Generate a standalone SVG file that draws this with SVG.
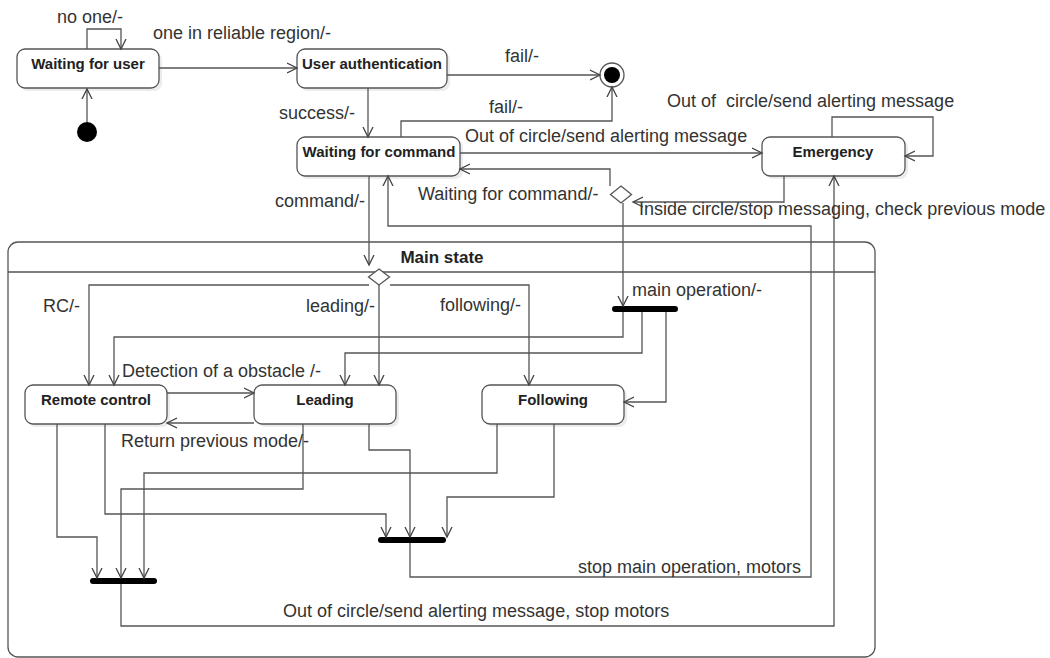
<svg xmlns="http://www.w3.org/2000/svg" width="1050" height="658" viewBox="0 0 1050 658">
<defs>
<marker id="arr" markerUnits="userSpaceOnUse" markerWidth="12" markerHeight="12" refX="10" refY="5" orient="auto" viewBox="0 0 12 10">
<path d="M0,0 L10,5 L0,10" fill="none" stroke="#444" stroke-width="1.3"/>
</marker>
</defs>
<style>
.node{fill:#fff;stroke:#555;stroke-width:1.3}
.shadow{fill:#ececec;stroke:none}
.nl{font-family:"Liberation Sans",Arial,sans-serif;font-weight:bold;font-size:15px;fill:#222;text-anchor:middle}
.lbl{font-family:"Liberation Sans",Arial,sans-serif;font-size:18px;fill:#333}
.c{fill:none;stroke:#555;stroke-width:1.3;marker-end:url(#arr)}
.cn{fill:none;stroke:#555;stroke-width:1.3}
.bar{fill:#000}
</style>
<rect x="0" y="0" width="1050" height="658" fill="#fff"/>

<g id="main-state">
<rect x="8" y="242" width="867" height="415" rx="10" fill="#fff" stroke="#555" stroke-width="1.3"/>
<line x1="8" y1="272" x2="875" y2="272" stroke="#555" stroke-width="1.3"/>
<text x="442" y="263" class="nl" style="font-size:17px">Main state</text>
</g>

<g id="waiting-for-user">
<rect class="shadow" x="20" y="52" width="142" height="39" rx="8"/>
<rect class="node" x="17" y="49" width="142" height="39" rx="8"/>
<text class="nl" x="88" y="69">Waiting for user</text>
</g>
<g id="initial">
<circle cx="87" cy="132" r="10" fill="#000"/>
</g>
<g id="user-authentication">
<rect class="shadow" x="300" y="52" width="150" height="39" rx="8"/>
<rect class="node" x="297" y="49" width="150" height="39" rx="8"/>
<text class="nl" x="372" y="69">User authentication</text>
</g>
<g id="final">
<circle cx="612" cy="75" r="12" fill="#fff" stroke="#555" stroke-width="1.3"/>
<circle cx="612" cy="75" r="8" fill="#000"/>
</g>
<g id="waiting-for-command">
<rect class="shadow" x="300" y="140" width="163" height="39" rx="8"/>
<rect class="node" x="297" y="137" width="163" height="39" rx="8"/>
<text class="nl" x="379" y="157">Waiting for command</text>
</g>
<g id="emergency">
<rect class="shadow" x="765" y="140" width="143" height="39" rx="8"/>
<rect class="node" x="762" y="137" width="143" height="39" rx="8"/>
<text class="nl" x="833" y="157">Emergency</text>
</g>
<g id="decision-top">
<path d="M621,186 L631.5,194.5 L621,203 L610.5,194.5 Z" fill="#fff" stroke="#555" stroke-width="1.3"/>
</g>
<g id="decision-main">
<path d="M379,269 L389.5,277 L379,285 L368.5,277 Z" fill="#fff" stroke="#555" stroke-width="1.3"/>
</g>
<g id="fork-main-operation">
<rect class="bar" x="612" y="306" width="66" height="6" rx="3"/>
</g>
<g id="remote-control">
<rect class="shadow" x="28" y="388" width="142" height="39" rx="8"/>
<rect class="node" x="25" y="385" width="142" height="39" rx="8"/>
<text class="nl" x="96" y="405">Remote control</text>
</g>
<g id="leading">
<rect class="shadow" x="257" y="388" width="142" height="39" rx="8"/>
<rect class="node" x="254" y="385" width="142" height="39" rx="8"/>
<text class="nl" x="325" y="405">Leading</text>
</g>
<g id="following">
<rect class="shadow" x="485" y="388" width="142" height="39" rx="8"/>
<rect class="node" x="482" y="385" width="142" height="39" rx="8"/>
<text class="nl" x="553" y="405">Following</text>
</g>
<g id="join-2">
<rect class="bar" x="378" y="537" width="68" height="6" rx="3"/>
</g>
<g id="join-1">
<rect class="bar" x="90" y="578" width="67" height="6" rx="3"/>
</g>

<g id="connectors">
<path class="c" d="M87,122 L87,89"/>
<path class="c" d="M87,49 L87,29 L121,29 L121,49"/>
<path class="c" d="M159,68 L297,68"/>
<path class="c" d="M447,75 L600,75"/>
<path class="c" d="M368,88 L368,137"/>
<path class="c" d="M401,137 L401,121 L612,121 L612,87"/>
<path class="c" d="M460,153 L762,153"/>
<path class="c" d="M832,137 L832,117 L933,117 L933,156 L905,156"/>
<path class="c" d="M784,176 L784,202 L633,202"/>
<path class="c" d="M610,186 L610,169 L460,169"/>
<path class="c" d="M623,203 L623,306"/>
<path class="c" d="M369,176 L369,265"/>
<path class="c" d="M623,312 L623,337 L114,337 L114,385"/>
<path class="c" d="M642,312 L642,353 L345,353 L345,385"/>
<path class="c" d="M666,312 L666,402 L624,402"/>
<path class="c" d="M369,285 L89,285 L89,385"/>
<path class="c" d="M379,285 L379,385"/>
<path class="c" d="M390,285 L529,285 L529,385"/>
<path class="c" d="M167,393 L254,393"/>
<path class="c" d="M254,423 L167,423"/>
<path class="c" d="M57,424 L57,537 L97,537 L97,578"/>
<path class="c" d="M303,424 L303,489 L121,489 L121,578"/>
<path class="c" d="M497,424 L497,473 L144,473 L144,578"/>
<path class="c" d="M105,424 L105,514 L386,514 L386,537"/>
<path class="c" d="M369,424 L369,450 L410,450 L410,537"/>
<path class="c" d="M554,424 L554,497 L447,497 L447,537"/>
<path class="c" d="M410,543 L410,577 L811,577 L811,226 L388,226 L388,176"/>
<path class="c" d="M121,584 L121,626 L834,626 L834,176"/>
</g>

<g id="labels">
<text class="lbl" x="57" y="23">no one/-</text>
<text class="lbl" x="153" y="39">one in reliable region/-</text>
<text class="lbl" x="505" y="62">fail/-</text>
<text class="lbl" x="279" y="119">success/-</text>
<text class="lbl" x="489" y="113">fail/-</text>
<text class="lbl" x="465" y="142">Out of circle/send alerting message</text>
<text class="lbl" x="667" y="107" xml:space="preserve">Out of  circle/send alerting message</text>
<text class="lbl" x="418" y="200">Waiting for command/-</text>
<text class="lbl" x="275" y="207">command/-</text>
<text class="lbl" x="639" y="215">Inside circle/stop messaging, check previous mode</text>
<text class="lbl" x="43" y="312">RC/-</text>
<text class="lbl" x="306" y="312">leading/-</text>
<text class="lbl" x="440" y="311">following/-</text>
<text class="lbl" x="632" y="296">main operation/-</text>
<text class="lbl" x="122" y="377">Detection of a obstacle /-</text>
<text class="lbl" x="121" y="447">Return previous mode/-</text>
<text class="lbl" x="578" y="573">stop main operation, motors</text>
<text class="lbl" x="283" y="617">Out of circle/send alerting message, stop motors</text>
</g>
</svg>
